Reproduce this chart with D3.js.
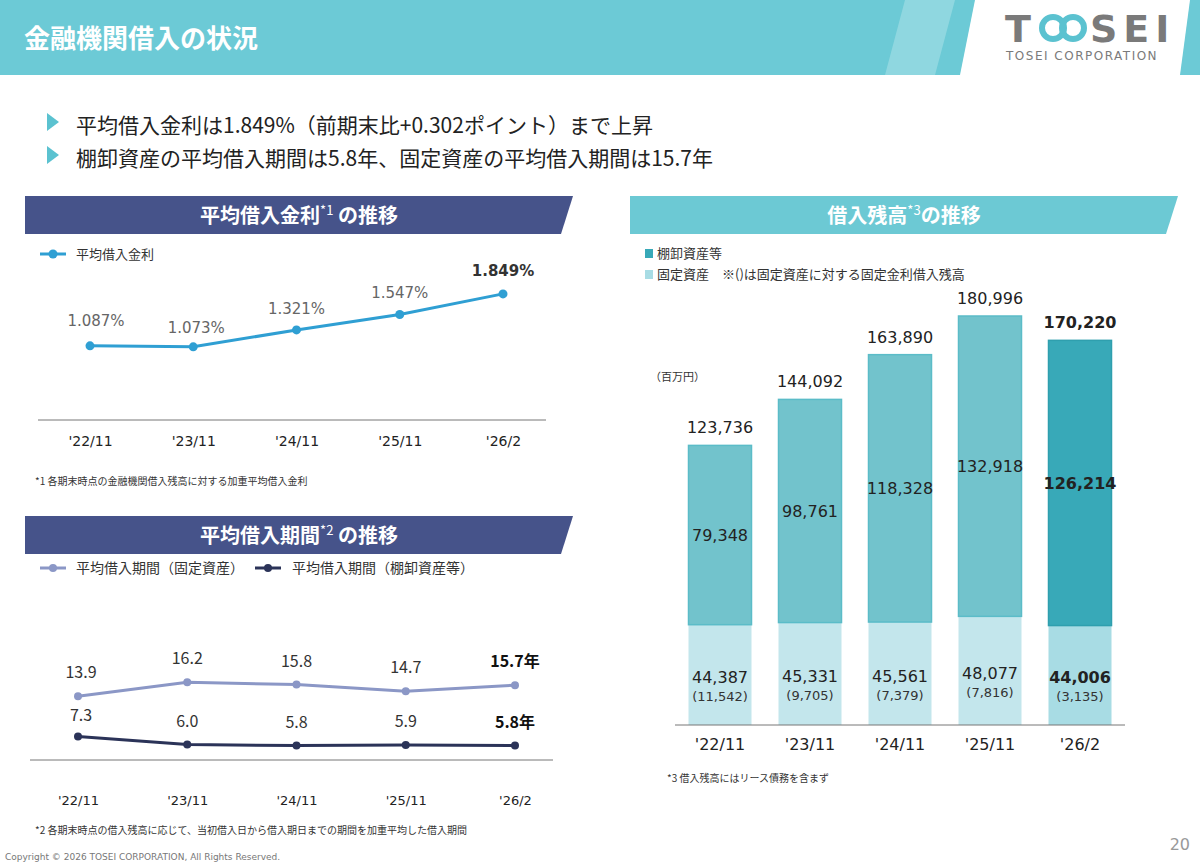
<!DOCTYPE html>
<html><head><meta charset="utf-8">
<script src="https://cdn.jsdelivr.net/npm/d3@7"></script>
<style>
body{margin:0;background:#fff;font-family:"Noto Sans CJK JP","Noto Sans",sans-serif;}
</style></head><body>
<svg id="c" width="1200" height="866"></svg>
<script>
const periods = ["'22/11", "'23/11", "'24/11", "'25/11", "'26/2"];
const rateValues = [1.087, 1.073, 1.321, 1.547, 1.849];
const termFixed = [13.9, 16.2, 15.8, 14.7, 15.7];
const termInventory = [7.3, 6.0, 5.8, 5.9, 5.8];
const inventoryDebt = [79348, 98761, 118328, 132918, 126214];
const fixedDebt = [44387, 45331, 45561, 48077, 44006];
const fixedRateDebt = [11542, 9705, 7379, 7816, 3135];
const totalDebt = [123736, 144092, 163890, 180996, 170220];

const svg = d3.select('#c');
const fmt = d3.format(',');
const jp = '"Noto Sans CJK JP",sans-serif';

// header
svg.append('rect').attr('width', 1200).attr('height', 75).attr('fill', '#6ccad6');
svg.append('path').attr('d', 'M905,0 L955,0 L935,75 L885,75Z').attr('fill', '#8fd7e0');
svg.append('path').attr('d', 'M975,0 L1200,0 L1200,75 L960,75Z').attr('fill', '#fff');
svg.append('path').attr('d', 'M1190,0 L1200,0 L1200,75 L1180,75Z').attr('fill', '#6ccad6');
svg.append('text').attr('x', 24).attr('y', 48).attr('fill', '#fff').attr('font-size', 26).attr('font-weight', 'bold').attr('font-family', jp).text('金融機関借入の状況');
svg.append('text').attr('x', 1005).attr('y', 42).attr('fill', '#7a7a7a').attr('font-size', 38).attr('font-weight', 'bold').attr('font-family', 'DejaVu Sans').text('T');
svg.append('text').attr('x', 1090).attr('y', 42).attr('fill', '#7a7a7a').attr('font-size', 38).attr('font-weight', 'bold').attr('font-family', 'DejaVu Sans').attr('letter-spacing', 6).text('SEI');
svg.append('circle').attr('cx', 1053).attr('cy', 28).attr('r', 11).attr('fill', 'none').attr('stroke', '#5bc2d0').attr('stroke-width', 6);
svg.append('circle').attr('cx', 1073).attr('cy', 28).attr('r', 11).attr('fill', 'none').attr('stroke', '#5bc2d0').attr('stroke-width', 6);
svg.append('text').attr('x', 1006).attr('y', 60).attr('fill', '#7a7a7a').attr('font-size', 12).attr('letter-spacing', 1.5).attr('font-family', 'DejaVu Sans').text('TOSEI CORPORATION');

// bullets
[['平均借入金利は1.849%（前期末比+0.302ポイント）まで上昇', 133], ['棚卸資産の平均借入期間は5.8年、固定資産の平均借入期間は15.7年', 166]].forEach(([t, y]) => {
  svg.append('path').attr('d', `M47,${y - 20} L59,${y - 11} L47,${y - 2}Z`).attr('fill', '#5bc2d0');
  svg.append('text').attr('x', 76).attr('y', y).attr('font-size', 21).attr('fill', '#222').attr('font-family', jp).text(t);
});

// section headers
function secHeader(x, w, y, fill, label, sup, rest) {
  svg.append('path').attr('d', `M${x},${y} L${x + w},${y} L${x + w - 12},${y + 38} L${x},${y + 38}Z`).attr('fill', fill);
  const t = svg.append('text').attr('x', x + w / 2).attr('y', y + 27).attr('text-anchor', 'middle').attr('fill', '#fff').attr('font-size', 20).attr('font-weight', 'bold').attr('font-family', jp);
  t.append('tspan').text(label);
  t.append('tspan').attr('font-size', 13).attr('font-weight', 'normal').attr('dy', -8).text(sup);
  t.append('tspan').attr('dy', 8).text(rest);
}
secHeader(25, 548, 196, '#46538a', '平均借入金利', '*1', ' の推移');
secHeader(25, 548, 516, '#46538a', '平均借入期間', '*2', ' の推移');
secHeader(630, 548, 196, '#6cc9d4', '借入残高', '*3', 'の推移');

// chart 1: interest rate
const x1 = d3.scalePoint().domain(periods).range([90, 503]);
const y1 = d3.scaleLinear().domain([0, 2]).range([420, 283.6]);
svg.append('line').attr('x1', 38).attr('x2', 546).attr('y1', 420).attr('y2', 420).attr('stroke', '#777');
const ax1 = svg.append('g').attr('transform', 'translate(0,420)').call(d3.axisBottom(x1).tickSize(0).tickPadding(16));
ax1.select('.domain').remove();
ax1.selectAll('text').attr('font-size', 14).attr('fill', '#222').attr('font-family', 'DejaVu Sans');
svg.append('path').datum(rateValues).attr('fill', 'none').attr('stroke', '#2f9fd3').attr('stroke-width', 3)
  .attr('d', d3.line().x((d, i) => x1(periods[i])).y(d => y1(d)));
svg.selectAll('.p1').data(rateValues).join('circle').attr('cx', (d, i) => x1(periods[i])).attr('cy', d => y1(d)).attr('r', 4.5).attr('fill', '#2f9fd3');
const off1 = [-20, -14, -16, -16, -18];
svg.selectAll('.l1').data(rateValues).join('text').attr('x', (d, i) => x1(periods[i]) + (i == 1 ? 3 : 0) + (i == 0 ? 6 : 0)).attr('y', (d, i) => y1(d) + off1[i])
  .attr('text-anchor', 'middle').attr('font-size', 15).attr('font-family', 'DejaVu Sans')
  .attr('fill', (d, i) => i == 4 ? '#333' : '#666').attr('font-weight', (d, i) => i == 4 ? 'bold' : 'normal')
  .text(d => d.toFixed(3) + '%');
svg.append('line').attr('x1', 40).attr('x2', 66).attr('y1', 254).attr('y2', 254).attr('stroke', '#2f9fd3').attr('stroke-width', 3);
svg.append('circle').attr('cx', 53).attr('cy', 254).attr('r', 4.5).attr('fill', '#2f9fd3');
svg.append('text').attr('x', 76).attr('y', 259).attr('font-size', 13).attr('fill', '#333').attr('font-family', jp).text('平均借入金利');
svg.append('text').attr('x', 35).attr('y', 485).attr('font-size', 10).attr('fill', '#333').attr('font-family', jp).text('*1 各期末時点の金融機関借入残高に対する加重平均借入金利');

// chart 2: terms
const x2 = d3.scalePoint().domain(periods).range([78, 515]);
const y2 = d3.scaleLinear().domain([0, 20]).range([781, 659]);
svg.append('line').attr('x1', 30).attr('x2', 553).attr('y1', 760).attr('y2', 760).attr('stroke', '#777');
const ax2 = svg.append('g').attr('transform', 'translate(0,760)').call(d3.axisBottom(x2).tickSize(0).tickPadding(36));
ax2.select('.domain').remove();
ax2.selectAll('text').attr('font-size', 13).attr('fill', '#222').attr('font-family', 'DejaVu Sans');
function termLine(vals, color, unit, offs) {
  svg.append('path').datum(vals).attr('fill', 'none').attr('stroke', color).attr('stroke-width', 3)
    .attr('d', d3.line().x((d, i) => x2(periods[i])).y(d => y2(d)));
  svg.selectAll(null).data(vals).join('circle').attr('cx', (d, i) => x2(periods[i])).attr('cy', d => y2(d)).attr('r', 4).attr('fill', color);
  svg.selectAll(null).data(vals).join('text').attr('x', (d, i) => x2(periods[i]) + (i == 0 ? 3 : 0)).attr('y', (d, i) => y2(d) + offs[i])
    .attr('text-anchor', 'middle').attr('font-size', 16).attr('font-family', jp)
    .attr('fill', (d, i) => i == 4 ? '#111' : '#333').attr('font-weight', (d, i) => i == 4 ? 'bold' : 'normal')
    .text((d, i) => d.toFixed(1) + (i == 4 ? unit : ''));
}
termLine(termFixed, '#8b97c6', '年', [-18, -18, -18, -18, -18]);
termLine(termInventory, '#2b3358', '年', [-15, -17, -18, -18, -18]);
svg.append('line').attr('x1', 40).attr('x2', 66).attr('y1', 568).attr('y2', 568).attr('stroke', '#8b97c6').attr('stroke-width', 3);
svg.append('circle').attr('cx', 53).attr('cy', 568).attr('r', 4).attr('fill', '#8b97c6');
svg.append('text').attr('x', 76).attr('y', 573).attr('font-size', 14).attr('fill', '#333').attr('font-family', jp).text('平均借入期間（固定資産）');
svg.append('line').attr('x1', 255).attr('x2', 281).attr('y1', 568).attr('y2', 568).attr('stroke', '#2b3358').attr('stroke-width', 3);
svg.append('circle').attr('cx', 268).attr('cy', 568).attr('r', 4).attr('fill', '#2b3358');
svg.append('text').attr('x', 292).attr('y', 573).attr('font-size', 14).attr('fill', '#333').attr('font-family', jp).text('平均借入期間（棚卸資産等）');
svg.append('text').attr('x', 35).attr('y', 834).attr('font-size', 10).attr('fill', '#333').attr('font-family', jp).text('*2 各期末時点の借入残高に応じて、当初借入日から借入期日までの期間を加重平均した借入期間');

// chart 3: stacked bars
const x3 = d3.scaleBand().domain(periods).range([675, 1125]).paddingInner(0.3).paddingOuter(0.15);
const y3 = d3.scaleLinear().domain([0, 180996]).range([725, 316]);
const bw = x3.bandwidth();
periods.forEach((p, i) => {
  const last = i == 4;
  const bx = x3(p);
  svg.append('rect').attr('x', bx).attr('width', bw).attr('y', y3(fixedDebt[i])).attr('height', y3(0) - y3(fixedDebt[i])).attr('fill', last ? '#a8dce4' : '#c3e6ec');
  svg.append('rect').attr('x', bx).attr('width', bw).attr('y', y3(totalDebt[i])).attr('height', y3(fixedDebt[i]) - y3(totalDebt[i]))
    .attr('fill', last ? '#38a9b8' : '#72c3cc').attr('stroke', last ? '#2f9fae' : '#5bbcc8').attr('stroke-width', 1.5);
  const cx = bx + bw / 2;
  const fw = last ? 'bold' : 'normal';
  svg.append('text').attr('x', cx).attr('y', y3(totalDebt[i]) - 12).attr('text-anchor', 'middle').attr('font-size', 16).attr('font-weight', fw).attr('fill', '#222').attr('font-family', 'DejaVu Sans').text(fmt(totalDebt[i]));
  svg.append('text').attr('x', cx).attr('y', (y3(fixedDebt[i]) + y3(totalDebt[i])) / 2 + 6).attr('text-anchor', 'middle').attr('font-size', 16).attr('font-weight', fw).attr('fill', '#222').attr('font-family', 'DejaVu Sans').text(fmt(inventoryDebt[i]));
  svg.append('text').attr('x', cx).attr('y', y3(fixedDebt[i] / 2) + 8).attr('text-anchor', 'middle').attr('font-size', 16).attr('font-weight', fw).attr('fill', '#222').attr('font-family', 'DejaVu Sans').text(fmt(fixedDebt[i]));
  svg.append('text').attr('x', cx).attr('y', y3(fixedDebt[i] / 2) + 26).attr('text-anchor', 'middle').attr('font-size', 13).attr('fill', '#333').attr('font-family', 'DejaVu Sans').text('(' + fmt(fixedRateDebt[i]) + ')');
});
svg.append('line').attr('x1', 675).attr('x2', 1125).attr('y1', 725).attr('y2', 725).attr('stroke', '#777');
const ax3 = svg.append('g').attr('transform', 'translate(0,725)').call(d3.axisBottom(x3).tickSize(0).tickPadding(14));
ax3.select('.domain').remove();
ax3.selectAll('text').attr('font-size', 16).attr('fill', '#222').attr('font-family', 'DejaVu Sans');
svg.append('text').attr('x', 650).attr('y', 381).attr('font-size', 11).attr('fill', '#333').attr('font-family', jp).text('（百万円）');
svg.append('rect').attr('x', 645).attr('y', 249).attr('width', 8).attr('height', 9).attr('fill', '#38a9b8');
svg.append('text').attr('x', 657).attr('y', 258).attr('font-size', 13).attr('fill', '#333').attr('font-family', jp).text('棚卸資産等');
svg.append('rect').attr('x', 645).attr('y', 270).attr('width', 8).attr('height', 9).attr('fill', '#a8dce4');
svg.append('text').attr('x', 657).attr('y', 279).attr('font-size', 13).attr('fill', '#333').attr('font-family', jp).text('固定資産　※()は固定資産に対する固定金利借入残高');
svg.append('text').attr('x', 667).attr('y', 782).attr('font-size', 10).attr('fill', '#333').attr('font-family', jp).text('*3 借入残高にはリース債務を含まず');

// footer
svg.append('text').attr('x', 5).attr('y', 860).attr('font-size', 9).attr('fill', '#777').attr('font-family', 'DejaVu Sans').text('Copyright © 2026 TOSEI CORPORATION, All Rights Reserved.');
svg.append('text').attr('x', 1190).attr('y', 850).attr('text-anchor', 'end').attr('font-size', 16).attr('fill', '#999').attr('font-family', 'DejaVu Sans').text('20');
</script>
</body></html>
